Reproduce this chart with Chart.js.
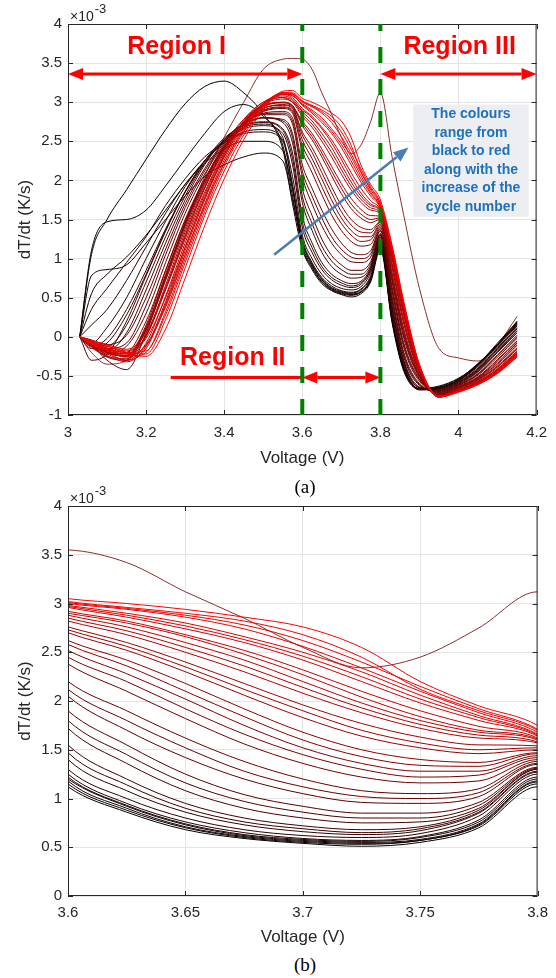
<!DOCTYPE html>
<html>
<head>
<meta charset="utf-8">
<script src="https://cdn.jsdelivr.net/npm/chart.js@4.4.1/dist/chart.umd.min.js"></script>
<style>
  body { margin: 0; background: #fff; }
  #wrap { position: relative; width: 556px; height: 978px; }
  .box { position: absolute; left: 0; width: 556px; height: 470px; }
  .cap { position: absolute; left: 255px; width: 100px; text-align: center;
         font-family: "Liberation Serif", "Times New Roman", serif; font-size: 19px; color: #000; }
</style>
</head>
<body>
<div id="wrap">
  <div class="box" style="top:0"><canvas id="chartA" width="556" height="470"></canvas></div>
  <div class="box" style="top:482px"><canvas id="chartB" width="556" height="470"></canvas></div>
  <div class="cap" style="top:476px">(a)</div>
  <div class="cap" style="top:954px">(b)</div>
</div>
<script>
// voltage sample points (V), shared by every cycle
var voltage = [3.03, 3.06, 3.1, 3.15, 3.2, 3.25, 3.3, 3.35, 3.4, 3.45, 3.5, 3.55, 3.575, 3.6, 3.625,
               3.65, 3.675, 3.7, 3.725, 3.75, 3.775, 3.8, 3.83, 3.86, 3.9, 3.95, 4.0, 4.05, 4.1, 4.15];

// dT/dt in 1e-3 K/s, early cycles (black) first, late cycles (red) last
var cyc01 = [0, 1.05, 1.5, 1.88, 2.27, 2.65, 2.98, 3.2, 3.27, 3.12, 2.85, 2.4, 1.7, 1.12, 0.86, 0.68, 0.59, 0.54, 0.51, 0.55, 0.7, 1.12, 0.18, -0.44, -0.67, -0.64, -0.54, -0.34, -0.1, 0.2];
var cyc02 = [0, 1.1, 1.47, 1.5, 1.62, 1.93, 2.27, 2.6, 2.88, 2.97, 2.82, 2.45, 1.8, 1.15, 0.88, 0.7, 0.6, 0.55, 0.53, 0.57, 0.72, 1.15, 0.2, -0.42, -0.66, -0.63, -0.53, -0.35, -0.08, 0.19];
var cyc03 = [0, 0.55, 0.8, 1.02, 1.3, 1.62, 1.95, 2.25, 2.5, 2.68, 2.72, 2.55, 1.9, 1.18, 0.9, 0.71, 0.61, 0.56, 0.54, 0.57, 0.73, 1.17, 0.21, -0.41, -0.67, -0.65, -0.55, -0.35, -0.1, 0.18];
var cyc04 = [0, 0.78, 0.86, 0.92, 1.2, 1.5, 1.8, 2.05, 2.2, 2.3, 2.35, 2.25, 1.75, 1.2, 0.92, 0.73, 0.62, 0.57, 0.55, 0.58, 0.74, 1.18, 0.22, -0.4, -0.68, -0.66, -0.56, -0.36, -0.11, 0.16];
var cyc05 = [0, 0.15, 0.35, 0.72, 1.15, 1.58, 1.95, 2.22, 2.4, 2.5, 2.5, 2.38, 1.88, 1.22, 0.93, 0.74, 0.63, 0.58, 0.56, 0.6, 0.76, 1.2, 0.24, -0.39, -0.67, -0.66, -0.56, -0.36, -0.11, 0.17];
var cyc06 = [0, 0.35, 0.62, 0.95, 1.28, 1.68, 2.02, 2.3, 2.48, 2.6, 2.62, 2.5, 1.95, 1.25, 0.95, 0.76, 0.65, 0.59, 0.57, 0.61, 0.78, 1.22, 0.26, -0.38, -0.66, -0.65, -0.55, -0.37, -0.1, 0.15];
var cyc07 = [0, -0.08, 0.12, 0.5, 1.0, 1.48, 1.92, 2.25, 2.48, 2.62, 2.65, 2.52, 2.05, 1.3, 1.0, 0.8, 0.68, 0.62, 0.6, 0.64, 0.82, 1.25, 0.3, -0.36, -0.67, -0.66, -0.56, -0.38, -0.12, 0.14];
var cyc08 = [0, -0.12, -0.02, 0.35, 0.85, 1.38, 1.85, 2.22, 2.5, 2.66, 2.7, 2.6, 2.2, 1.4, 1.08, 0.86, 0.73, 0.66, 0.63, 0.67, 0.85, 1.27, 0.35, -0.33, -0.65, -0.67, -0.57, -0.4, -0.14, 0.12];
var cyc09 = [0, -0.15, -0.08, 0.28, 0.8, 1.36, 1.86, 2.25, 2.54, 2.7, 2.74, 2.64, 2.28, 1.47, 1.14, 0.9, 0.76, 0.69, 0.65, 0.69, 0.86, 1.28, 0.37, -0.32, -0.65, -0.67, -0.58, -0.41, -0.15, 0.11];
var cyc10 = [0, -0.3, -0.22, 0.2, 0.78, 1.35, 1.85, 2.25, 2.52, 2.7, 2.75, 2.66, 2.35, 1.55, 1.2, 0.95, 0.8, 0.72, 0.68, 0.71, 0.88, 1.3, 0.4, -0.3, -0.64, -0.68, -0.58, -0.42, -0.16, 0.1];
var cyc11 = [0, -0.08, -0.12, 0.15, 0.7, 1.28, 1.8, 2.22, 2.52, 2.72, 2.8, 2.74, 2.48, 1.72, 1.36, 1.08, 0.9, 0.8, 0.75, 0.76, 0.9, 1.3, 0.45, -0.26, -0.62, -0.69, -0.59, -0.43, -0.18, 0.08];
var cyc12 = [0, -0.1, -0.18, 0.05, 0.6, 1.2, 1.75, 2.2, 2.52, 2.72, 2.8, 2.76, 2.55, 1.8, 1.45, 1.16, 0.97, 0.86, 0.8, 0.8, 0.93, 1.31, 0.48, -0.23, -0.61, -0.69, -0.6, -0.44, -0.19, 0.07];
var cyc13 = [0, -0.1, -0.3, -0.42, 0.05, 0.75, 1.45, 2.0, 2.42, 2.68, 2.8, 2.78, 2.6, 1.9, 1.55, 1.25, 1.04, 0.92, 0.85, 0.85, 0.96, 1.32, 0.52, -0.2, -0.6, -0.7, -0.6, -0.45, -0.2, 0.05];
var cyc14 = [0, -0.06, -0.15, -0.08, 0.4, 1.05, 1.65, 2.12, 2.48, 2.72, 2.84, 2.84, 2.72, 2.05, 1.7, 1.42, 1.2, 1.05, 0.96, 0.95, 1.02, 1.35, 0.58, -0.14, -0.57, -0.71, -0.61, -0.47, -0.23, 0.02];
var cyc15 = [0, -0.04, -0.1, 0.02, 0.5, 1.12, 1.7, 2.15, 2.5, 2.73, 2.85, 2.86, 2.76, 2.12, 1.8, 1.52, 1.28, 1.12, 1.02, 1.0, 1.06, 1.36, 0.61, -0.11, -0.55, -0.71, -0.62, -0.48, -0.24, 0];
var cyc16 = [0, -0.1, -0.2, -0.12, 0.3, 0.95, 1.58, 2.08, 2.46, 2.72, 2.86, 2.88, 2.8, 2.2, 1.9, 1.62, 1.38, 1.2, 1.08, 1.05, 1.1, 1.38, 0.64, -0.08, -0.54, -0.72, -0.62, -0.49, -0.26, -0.02];
var cyc17 = [0, -0.05, -0.2, -0.25, 0.15, 0.85, 1.5, 2.02, 2.44, 2.72, 2.88, 2.92, 2.86, 2.38, 2.1, 1.82, 1.56, 1.36, 1.22, 1.16, 1.18, 1.4, 0.7, -0.02, -0.52, -0.73, -0.63, -0.51, -0.29, -0.05];
var cyc18 = [0, -0.12, -0.26, -0.3, 0.1, 0.8, 1.45, 2.0, 2.43, 2.72, 2.89, 2.93, 2.88, 2.45, 2.2, 1.92, 1.66, 1.45, 1.3, 1.22, 1.24, 1.42, 0.73, 0.01, -0.51, -0.73, -0.64, -0.52, -0.3, -0.06];
var cyc19 = [0, -0.1, -0.22, -0.2, 0.2, 0.85, 1.48, 2.0, 2.42, 2.72, 2.9, 2.94, 2.9, 2.52, 2.28, 2.02, 1.75, 1.52, 1.36, 1.28, 1.28, 1.44, 0.76, 0.04, -0.5, -0.73, -0.64, -0.52, -0.32, -0.08];
var cyc20 = [0, -0.06, -0.2, -0.24, 0.12, 0.78, 1.42, 1.97, 2.42, 2.74, 2.92, 2.96, 2.92, 2.58, 2.36, 2.1, 1.84, 1.6, 1.43, 1.34, 1.33, 1.46, 0.79, 0.07, -0.49, -0.74, -0.65, -0.53, -0.34, -0.1];
var cyc21 = [0, -0.08, -0.18, -0.22, 0.08, 0.72, 1.38, 1.95, 2.4, 2.73, 2.92, 2.97, 2.93, 2.62, 2.42, 2.18, 1.92, 1.68, 1.5, 1.4, 1.37, 1.47, 0.82, 0.1, -0.48, -0.74, -0.65, -0.54, -0.35, -0.11];
var cyc22 = [0, -0.12, -0.25, -0.28, 0, 0.62, 1.3, 1.9, 2.38, 2.74, 2.94, 3.0, 2.96, 2.7, 2.52, 2.3, 2.06, 1.83, 1.64, 1.52, 1.46, 1.5, 0.88, 0.16, -0.46, -0.75, -0.66, -0.55, -0.37, -0.14];
var cyc23 = [0, -0.1, -0.2, -0.25, 0.02, 0.66, 1.34, 1.92, 2.4, 2.75, 2.95, 2.99, 2.94, 2.73, 2.56, 2.35, 2.12, 1.9, 1.7, 1.57, 1.5, 1.52, 0.91, 0.19, -0.45, -0.75, -0.66, -0.55, -0.38, -0.15];
var cyc24 = [0, -0.06, -0.15, -0.2, 0.12, 0.75, 1.42, 2.0, 2.46, 2.78, 2.96, 3.0, 2.95, 2.76, 2.6, 2.4, 2.18, 1.96, 1.77, 1.63, 1.55, 1.54, 0.94, 0.22, -0.44, -0.75, -0.67, -0.56, -0.39, -0.16];
var cyc25 = [0, -0.14, -0.24, -0.32, -0.12, 0.45, 1.14, 1.78, 2.32, 2.74, 2.98, 3.06, 3.02, 2.85, 2.72, 2.55, 2.36, 2.14, 1.93, 1.76, 1.65, 1.58, 1.01, 0.29, -0.42, -0.76, -0.68, -0.58, -0.41, -0.19];
var cyc26 = [0, -0.1, -0.2, -0.3, -0.08, 0.52, 1.2, 1.82, 2.34, 2.74, 2.97, 3.04, 3.0, 2.82, 2.68, 2.5, 2.3, 2.08, 1.88, 1.72, 1.62, 1.57, 0.99, 0.27, -0.42, -0.76, -0.68, -0.57, -0.41, -0.18];
var cyc27 = [0, -0.08, -0.16, -0.22, 0.02, 0.6, 1.25, 1.85, 2.36, 2.76, 3.0, 3.08, 3.04, 2.88, 2.76, 2.6, 2.42, 2.2, 1.98, 1.8, 1.68, 1.6, 1.03, 0.31, -0.41, -0.76, -0.68, -0.58, -0.42, -0.2];
var cyc28 = [0, -0.05, -0.1, -0.16, 0.05, 0.62, 1.28, 1.9, 2.4, 2.78, 3.0, 3.06, 3.0, 2.9, 2.8, 2.66, 2.48, 2.27, 2.04, 1.84, 1.7, 1.61, 1.05, 0.33, -0.4, -0.77, -0.69, -0.59, -0.43, -0.21];
var cyc29 = [0, -0.12, -0.22, -0.3, -0.15, 0.42, 1.1, 1.75, 2.3, 2.72, 2.98, 3.1, 3.06, 2.92, 2.82, 2.68, 2.52, 2.32, 2.1, 1.9, 1.74, 1.62, 1.06, 0.34, -0.4, -0.77, -0.69, -0.59, -0.43, -0.21];
var cyc30 = [0, -0.06, -0.12, -0.18, -0.02, 0.5, 1.15, 1.78, 2.3, 2.7, 2.98, 3.12, 3.1, 2.96, 2.86, 2.74, 2.6, 2.42, 2.2, 1.98, 1.8, 1.64, 1.09, 0.37, -0.39, -0.77, -0.69, -0.59, -0.44, -0.22];
var cyc31 = [0, -0.09, -0.17, -0.25, -0.1, 0.38, 1.05, 1.7, 2.26, 2.68, 2.96, 3.11, 3.09, 2.97, 2.88, 2.77, 2.63, 2.46, 2.25, 2.02, 1.83, 1.65, 1.1, 0.38, -0.38, -0.77, -0.7, -0.6, -0.45, -0.23];
var cyc32 = [0, -0.1, -0.18, -0.26, -0.2, 0.32, 1.0, 1.65, 2.22, 2.66, 2.96, 3.1, 3.08, 2.98, 2.9, 2.8, 2.66, 2.5, 2.3, 2.06, 1.85, 1.66, 1.11, 0.39, -0.38, -0.77, -0.7, -0.6, -0.45, -0.23];
var cyc33 = [0, -0.08, -0.15, -0.24, -0.12, 0.4, 1.05, 1.68, 2.22, 2.64, 2.94, 3.1, 3.1, 3.0, 2.94, 2.86, 2.74, 2.56, 2.34, 2.1, 1.88, 1.68, 1.13, 0.41, -0.37, -0.77, -0.7, -0.6, -0.45, -0.24];
var cyc34 = [0, -0.07, -0.12, -0.2, -0.18, 0.28, 0.95, 1.6, 2.18, 2.62, 2.94, 3.12, 3.11, 3.01, 2.95, 2.88, 2.78, 2.62, 2.4, 2.15, 1.92, 1.71, 1.14, 0.42, -0.37, -0.77, -0.71, -0.61, -0.46, -0.25];
var cyc35 = [0, -0.05, -0.1, -0.2, -0.22, 0.22, 0.88, 1.55, 2.12, 2.58, 2.92, 3.12, 3.12, 3.02, 2.96, 2.9, 2.82, 2.68, 2.45, 2.12, 1.9, 1.7, 1.15, 0.43, -0.36, -0.76, -0.7, -0.61, -0.46, -0.25];
var cyc36 = [0, -0.08, -0.14, -0.22, -0.25, 0.1, 0.75, 1.42, 2.02, 2.52, 2.9, 3.14, 3.15, 3.05, 3.0, 2.94, 2.86, 2.76, 2.55, 2.2, 1.95, 1.75, 1.17, 0.45, -0.35, -0.76, -0.7, -0.61, -0.47, -0.26];
// the odd cycle with the second peak at 3.8 V
var oddCycle = [0, -0.2, -0.35, -0.3, 0.1, 0.75, 1.45, 2.05, 2.55, 3.0, 3.42, 3.55, 3.56, 3.55, 3.42, 3.12, 2.85, 2.55, 2.34, 2.45, 2.75, 3.12, 2.3, 1.55, 0.62, -0.15, -0.27, -0.31, -0.1, 0.26];

var cycles = [cyc01, cyc02, cyc03, cyc04, cyc05, cyc06, cyc07, cyc08, cyc09, cyc10, cyc11, cyc12,
              cyc13, cyc14, cyc15, cyc16, cyc17, cyc18, cyc19, cyc20, cyc21, cyc22, cyc23, cyc24,
              cyc25, cyc26, cyc27, cyc28, cyc29, cyc30, cyc31, cyc32, cyc33, cyc34, cyc35, cyc36];

// tick labels
var xTicksA = [3, 3.2, 3.4, 3.6, 3.8, 4, 4.2];
var yTicksA = [-1, -0.5, 0, 0.5, 1, 1.5, 2, 2.5, 3, 3.5, 4];
var xTicksB = [3.6, 3.65, 3.7, 3.75, 3.8];
var yTicksB = [0, 0.5, 1, 1.5, 2, 2.5, 3, 3.5, 4];

var regionEdges = [3.6, 3.8];
var noteLines = ["The colours", "range from", "black to red", "along with the", "increase of the", "cycle number"];

var FONT = '"Liberation Sans", Arial, Helvetica, sans-serif';
var INK = "#262626";
Chart.defaults.font.family = FONT;

function makeSets() {
    var n = cycles.length;
    var sets = cycles.map(function (vals, k) {
        var t = k / (n - 1);
        return {
            data: vals.map(function (v, i) { return { x: voltage[i], y: v }; }),
            borderColor: "rgb(" + Math.round(255 * t) + ",0,0)",
            borderWidth: 1,
            pointRadius: 0,
            cubicInterpolationMode: "monotone",
            order: n - k
        };
    });
    sets.push({
        data: oddCycle.map(function (v, i) { return { x: voltage[i], y: v }; }),
        borderColor: "rgb(140,45,45)",
        borderWidth: 1,
        pointRadius: 0,
        cubicInterpolationMode: "monotone",
        order: n + 1
    });
    return sets;
}

// box, inward ticks and the x10^-3 factor
var frame = {
    id: "frame",
    afterDatasetsDraw: function (chart) {
        var ctx = chart.ctx, a = chart.chartArea, x = chart.scales.x, y = chart.scales.y;
        ctx.save();
        ctx.strokeStyle = INK;
        ctx.lineWidth = 1;
        ctx.strokeRect(a.left + 0.5, a.top + 0.5, a.right - a.left - 1, a.bottom - a.top - 1);
        ctx.beginPath();
        x.ticks.forEach(function (t) {
            var px = Math.round(x.getPixelForValue(t.value)) + 0.5;
            ctx.moveTo(px, a.bottom); ctx.lineTo(px, a.bottom - 5);
            ctx.moveTo(px, a.top); ctx.lineTo(px, a.top + 5);
        });
        y.ticks.forEach(function (t) {
            var py = Math.round(y.getPixelForValue(t.value)) + 0.5;
            ctx.moveTo(a.left, py); ctx.lineTo(a.left + 5, py);
            ctx.moveTo(a.right, py); ctx.lineTo(a.right - 5, py);
        });
        ctx.stroke();
        ctx.fillStyle = INK;
        ctx.font = "14px " + FONT;
        ctx.textBaseline = "alphabetic";
        ctx.fillText("\u00d710", a.left + 2, a.top - 3);
        var w = ctx.measureText("\u00d710").width;
        ctx.font = "13px " + FONT;
        ctx.fillText("-3", a.left + 3 + w, a.top - 11);
        ctx.restore();
    }
};

function arrowLine(ctx, x1, y1, x2, y2, headStart, headEnd) {
    var len = 15, half = 6;
    var ang = Math.atan2(y2 - y1, x2 - x1);
    var sx = x1 + (headStart ? len * Math.cos(ang) : 0), sy = y1 + (headStart ? len * Math.sin(ang) : 0);
    var ex = x2 - (headEnd ? len * Math.cos(ang) : 0), ey = y2 - (headEnd ? len * Math.sin(ang) : 0);
    ctx.beginPath(); ctx.moveTo(sx, sy); ctx.lineTo(ex, ey); ctx.stroke();
    function head(tx, ty, a) {
        ctx.beginPath();
        ctx.moveTo(tx, ty);
        ctx.lineTo(tx - len * Math.cos(a) + half * Math.sin(a), ty - len * Math.sin(a) - half * Math.cos(a));
        ctx.lineTo(tx - len * Math.cos(a) - half * Math.sin(a), ty - len * Math.sin(a) + half * Math.cos(a));
        ctx.closePath(); ctx.fill();
    }
    if (headEnd) head(x2, y2, ang);
    if (headStart) head(x1, y1, ang + Math.PI);
}

// region labels, dashed borders, note box
var notes = {
    id: "notes",
    afterDatasetsDraw: function (chart, args, opts) {
        if (!opts.show) return;
        var ctx = chart.ctx, a = chart.chartArea, xs = chart.scales.x, ys = chart.scales.y;
        var X = function (v) { return xs.getPixelForValue(v); };
        var Y = function (v) { return ys.getPixelForValue(v); };
        ctx.save();
        // red region arrows
        ctx.strokeStyle = "#ff0000"; ctx.fillStyle = "#ff0000"; ctx.lineWidth = 3;
        arrowLine(ctx, X(3.0), Y(3.36), X(3.6), Y(3.36), true, true);
        arrowLine(ctx, X(3.8), Y(3.36), X(4.2), Y(3.36), true, true);
        ctx.beginPath(); ctx.moveTo(X(3.263), Y(-0.52)); ctx.lineTo(X(3.6), Y(-0.52)); ctx.stroke();
        arrowLine(ctx, X(3.6), Y(-0.52), X(3.8), Y(-0.52), true, true);
        ctx.font = "bold 25px " + FONT;
        ctx.textAlign = "center"; ctx.textBaseline = "middle";
        ctx.fillText("Region I", X(3.278), Y(3.71));
        ctx.fillText("Region III", X(4.003), Y(3.71));
        ctx.fillText("Region II", X(3.422), Y(-0.27));
        // green dashed borders
        ctx.strokeStyle = "#008000"; ctx.lineWidth = 4; ctx.setLineDash([16, 16]);
        regionEdges.forEach(function (v) {
            ctx.beginPath(); ctx.moveTo(X(v), a.bottom); ctx.lineTo(X(v), a.top); ctx.stroke();
        });
        ctx.setLineDash([]);
        // note box
        var bx = X(3.884), by = Y(2.97), bw = X(4.18) - bx, bh = Y(1.535) - by;
        ctx.fillStyle = "#eceef1";
        ctx.fillRect(bx, by, bw, bh);
        ctx.fillStyle = "#1f70bd";
        ctx.font = "bold 14px " + FONT;
        noteLines.forEach(function (s, i) {
            ctx.fillText(s, bx + bw / 2, by + 10 + i * 18.5);
        });
        // blue arrow
        ctx.strokeStyle = "#4a7db4"; ctx.fillStyle = "#4a7db4"; ctx.lineWidth = 2.5;
        arrowLine(ctx, X(3.528), Y(1.05), X(3.872), Y(2.42), false, true);
        ctx.restore();
    }
};

function makeChart(id, xr, yr, xt, yt, axisH, tickPad, titlePad, withNotes) {
    return new Chart(document.getElementById(id), {
        type: "line",
        data: { datasets: makeSets() },
        options: {
            responsive: false,
            animation: false,
            events: [],
            layout: { padding: { left: 0, right: 13, top: 24, bottom: 0 } },
            plugins: { legend: { display: false }, tooltip: { enabled: false }, notes: { show: withNotes } },
            scales: {
                x: {
                    type: "linear", min: xr[0], max: xr[1],
                    afterBuildTicks: function (s) { s.ticks = xt.map(function (v) { return { value: v }; }); },
                    afterFit: function (s) { s.height = axisH; },
                    grid: { color: "#e4e4e4", drawTicks: false },
                    border: { display: false },
                    ticks: { padding: tickPad, color: INK, font: { size: 15 }, maxRotation: 0, autoSkip: false,
                             callback: function (v) { return String(v); } },
                    title: { display: true, text: "Voltage (V)", color: INK, font: { size: 17 }, padding: { top: 0, bottom: titlePad } }
                },
                y: {
                    type: "linear", min: yr[0], max: yr[1],
                    afterBuildTicks: function (s) { s.ticks = yt.map(function (v) { return { value: v }; }); },
                    afterFit: function (s) { s.width = 68; },
                    grid: { color: "#e4e4e4", drawTicks: false },
                    border: { display: false },
                    ticks: { padding: 6, color: INK, font: { size: 15 }, autoSkip: false,
                             callback: function (v) { return String(v); } },
                    title: { display: true, text: "dT/dt (K/s)", color: INK, font: { size: 17 }, padding: { top: 15, bottom: 0 } }
                }
            }
        },
        plugins: [frame, notes]
    });
}

makeChart("chartA", [3, 4.2], [-1, 4], xTicksA, yTicksA, 55, 9, 1, true);
makeChart("chartB", [3.6, 3.8], [0, 4], xTicksB, yTicksB, 56, 8, 4, false);
</script>
</body>
</html>
